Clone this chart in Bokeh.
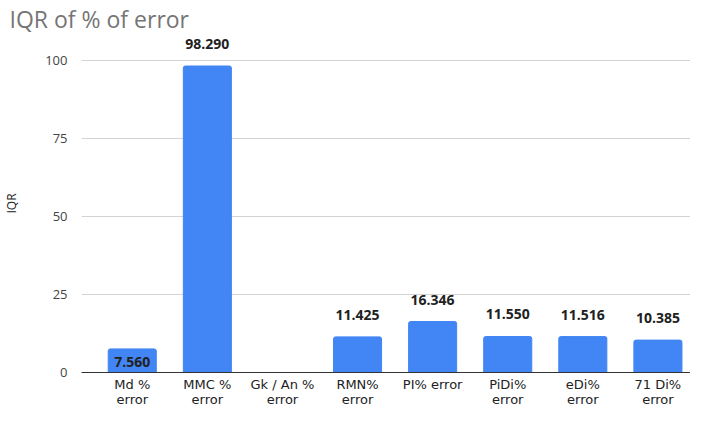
from bokeh.plotting import figure
from bokeh.models import ColumnDataSource, LabelSet, Range1d, FixedTicker
from bokeh.core.properties import value
from bokeh.embed import file_html
from bokeh.resources import INLINE

categories = ["Md %\nerror", "MMC %\nerror", "Gk / An %\nerror", "RMN%\nerror",
              "PI% error", "PiDi%\nerror", "eDi%\nerror", "71 Di%\nerror"]
values = [7.560, 98.290, None, 11.425, 16.346, 11.550, 11.516, 10.385]
value_labels = ["7.560", "98.290", "", "11.425", "16.346", "11.550", "11.516", "10.385"]
y_ticks = [0, 25, 50, 75, 100]

FONT = "Open Sans"
XFONT = "DejaVu Sans"
xs = list(range(len(categories)))
bar_vals = [v if v is not None else 0 for v in values]
inside = [i == 0 for i in xs]
shown = [i for i in xs if values[i] is not None]
src = ColumnDataSource(dict(x=xs, top=bar_vals))
src_out = ColumnDataSource(dict(x=[i for i in shown if not inside[i]],
                                y=[bar_vals[i] for i in shown if not inside[i]],
                                lab=[value_labels[i] for i in shown if not inside[i]]))
src_in = ColumnDataSource(dict(x=[i for i in shown if inside[i]],
                               y=[bar_vals[i] for i in shown if inside[i]],
                               lab=[value_labels[i] for i in shown if inside[i]]))

p = figure(width=690, height=409, output_backend="svg", toolbar_location=None,
           x_range=Range1d(-0.676, 7.434), y_range=Range1d(0, 108.4),
           min_border_left=72, min_border_right=0, min_border_top=0, min_border_bottom=0)

p.title.text = "IQR of % of error"
p.title.text_font = FONT
p.title.text_font_size = "23px"
p.title.text_font_style = "normal"
p.title.text_color = "#757575"
p.title.align = "left"
p.title.offset = -72
p.title.standoff = 0

p.vbar(x="x", top="top", width=0.64, source=src, color="#4285F4",
       border_radius=(2, 2, 0, 0))

p.add_layout(LabelSet(x="x", y="y", text="lab", source=src_out, text_align="center",
                      text_baseline="alphabetic", y_offset=17, text_font=value(FONT),
                      text_font_size=value("14px"), text_font_style=value("bold"),
                      text_color=value("#212121")))
p.add_layout(LabelSet(x="x", y="y", text="lab", source=src_in, text_align="center",
                      text_baseline="alphabetic", y_offset=-18, text_font=value(FONT),
                      text_font_size=value("14px"), text_font_style=value("bold"),
                      text_color=value("#212121")))

p.outline_line_color = None
p.background_fill_color = "white"
p.border_fill_color = "white"

p.xgrid.grid_line_color = None
p.ygrid.grid_line_color = "#d3d3d3"
p.ygrid.ticker = FixedTicker(ticks=y_ticks[1:])

p.yaxis.ticker = FixedTicker(ticks=y_ticks)
p.yaxis.axis_line_color = None
p.yaxis.major_tick_line_color = None
p.yaxis.minor_tick_line_color = None
p.yaxis.major_label_text_font = FONT
p.yaxis.major_label_text_font_size = "13px"
p.yaxis.major_label_text_color = "#444444"
p.yaxis.major_label_standoff = 8
p.yaxis.axis_label = "IQR"
p.yaxis.axis_label_text_font = FONT
p.yaxis.axis_label_text_font_size = "12px"
p.yaxis.axis_label_text_font_style = "normal"
p.yaxis.axis_label_text_color = "#222222"
p.yaxis.axis_label_standoff = 22

p.xaxis.ticker = FixedTicker(ticks=xs)
p.xaxis.major_label_overrides = {i: c for i, c in enumerate(categories)}
p.xaxis.axis_line_color = "#333333"
p.xaxis.axis_line_width = 1
p.xaxis.major_tick_line_color = None
p.xaxis.minor_tick_line_color = None
p.xaxis.major_tick_out = 0
p.xaxis.major_tick_in = 0
p.xaxis.axis_label = None
p.xaxis.axis_label_standoff = 0
p.xaxis.major_label_text_font = XFONT
p.xaxis.major_label_text_font_size = "13px"
p.xaxis.major_label_text_line_height = 1.0
p.xaxis.major_label_text_color = "#222222"
p.xaxis.major_label_standoff = 4

open("out.html", "w").write(file_html(p, INLINE))
